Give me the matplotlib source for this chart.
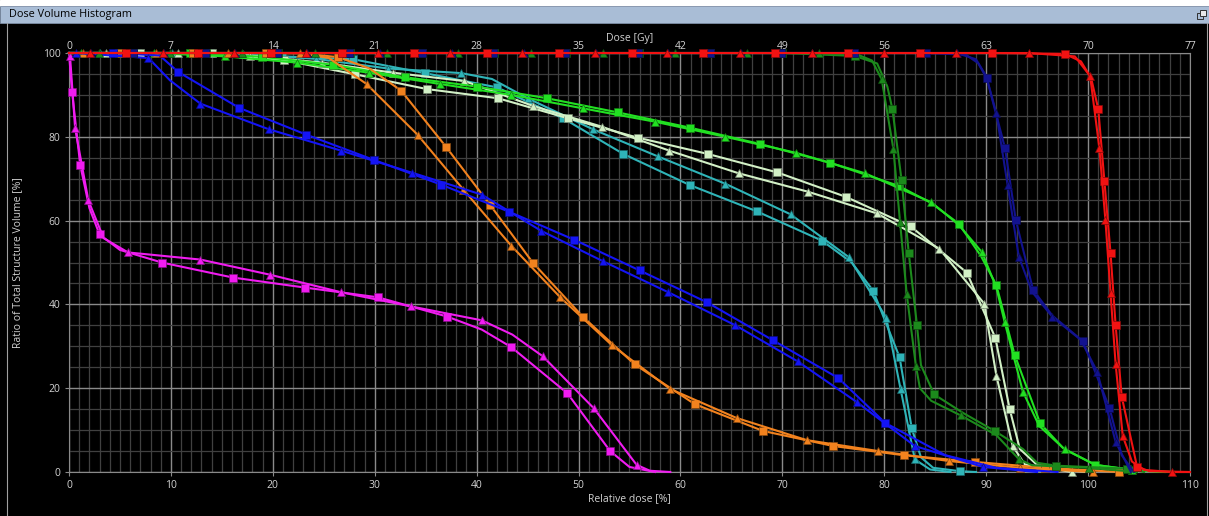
import numpy as np
import matplotlib
matplotlib.use('Agg')
import matplotlib.pyplot as plt
import matplotlib.colors as mcolors
from matplotlib.patches import Rectangle
from matplotlib.ticker import MultipleLocator

plt.rcParams['font.family'] = ['Open Sans', 'DejaVu Sans']

# colours of the structures
MAGENTA = '#f01cf0'
BLUE = '#1414f5'
NAVY = '#12128f'
ORANGE = '#f2821e'
TEAL = '#2fb4b8'
PALE = '#d2f0c6'
GREEN = '#22e022'
DGREEN = '#1c8a1c'
RED = '#f21212'

# relative dose [%] / volume [%] read at the markers, plus a few unmarked shape points (X)
M_SQ_D = [0.3, 1.1, 3.0, 9.1, 16.1, 23.2, 30.3, 37.1, 43.4, 48.9, 53.1]
M_SQ_V = [90.7, 73.3, 56.7, 50.0, 46.4, 44.0, 41.7, 37.1, 29.8, 18.8, 5.0]
M_SQ_XD = [0, 2.0, 5.0, 40.5, 55.0, 57.5]
M_SQ_XV = [100, 63.0, 53.0, 34.0, 1.2, 0]
M_TR_D = [0.1, 0.6, 1.9, 5.8, 12.9, 19.7, 26.7, 33.6, 40.5, 46.5, 51.5, 55.7]
M_TR_V = [99.3, 82.0, 64.8, 52.4, 50.7, 47.1, 42.9, 39.5, 36.2, 27.6, 15.2, 1.7]
M_TR_XD = [0, 3.4, 43.5, 57.0, 59.0]
M_TR_XV = [100, 55.8, 32.8, 0.3, 0]

B_SQ_D = [4.3, 10.7, 16.7, 23.3, 29.9, 36.5, 43.2, 49.6, 56.0, 62.6, 69.1, 75.5, 80.1]
B_SQ_V = [100, 95.5, 86.9, 80.5, 74.5, 68.6, 62.1, 55.4, 48.1, 40.5, 31.4, 22.4, 11.7]
B_SQ_XD = [0, 8.9, 86.0, 91.0, 97.0]
B_SQ_XV = [100, 99.4, 4.0, 1.0, 0]
B_TR_D = [0.7, 7.8, 12.9, 19.6, 26.7, 33.7, 40.5, 46.3, 52.4, 58.8, 65.4, 71.5, 77.3, 83.0, 89.7]
B_TR_V = [100, 98.8, 87.9, 81.8, 76.7, 71.4, 66.2, 57.6, 50.3, 42.9, 35.0, 26.4, 16.7, 6.2, 1.2]
B_TR_XD = [0, 9.9, 95.0]
B_TR_XV = [100, 93.5, 0]

O_TR_D = [1.4, 8.5, 15.6, 22.7, 29.2, 34.2, 38.7, 43.4, 48.2, 53.3, 59.0, 65.5, 72.4, 79.4, 86.4, 93.3, 100.5]
O_TR_V = [100, 100, 100, 100, 92.6, 80.5, 67.4, 54.0, 41.7, 30.2, 19.8, 12.9, 7.6, 5.0, 2.6, 1.0, 0]
O_TR_XD = [0, 25.5]
O_TR_XV = [100, 98.8]
O_SQ_D = [5.1, 12.2, 19.3, 26.4, 32.6, 37.0, 41.3, 45.5, 50.4, 55.5, 61.4, 68.1, 75.0, 81.9, 88.9, 95.8, 103.0]
O_SQ_V = [100, 100, 100, 99.0, 91.0, 77.6, 63.8, 50.0, 37.1, 25.7, 16.2, 9.8, 6.2, 4.0, 2.4, 1.0, 0]
O_SQ_XD = [0, 23.0, 29.5]
O_SQ_XV = [100, 99.9, 96.3]

T_SQ_D = [6.7, 13.8, 20.9, 27.9, 34.9, 42.0, 48.5, 54.4, 60.9, 67.5, 73.9, 78.9, 81.5, 82.7, 87.4]
T_SQ_V = [100, 100, 99.2, 98.5, 95.2, 91.8, 84.4, 75.9, 68.5, 62.2, 55.2, 43.3, 27.4, 10.4, 0.2]
T_SQ_XD = [0, 76.8, 83.6, 84.8, 89.0]
T_SQ_XV = [100, 50.0, 3.5, 1.0, 0]
T_TR_D = [3.0, 10.1, 17.1, 24.2, 31.3, 38.5, 45.0, 51.4, 57.8, 64.4, 70.8, 76.5, 80.2, 81.6, 83.0]
T_TR_V = [100, 100, 99.8, 98.6, 96.3, 95.2, 89.2, 81.8, 75.3, 68.8, 61.5, 51.3, 36.8, 19.8, 3.0]
T_TR_XD = [0, 41.5, 84.5, 86.5]
T_TR_XV = [100, 93.8, 0.6, 0]

P_SQ_D = [7.0, 14.0, 21.1, 28.1, 35.1, 42.1, 49.0, 55.8, 62.7, 69.5, 76.2, 82.6, 88.1, 90.9, 92.3, 95.3]
P_SQ_V = [100, 99.9, 98.3, 94.9, 91.4, 89.2, 84.4, 79.8, 75.9, 71.5, 65.7, 58.6, 47.6, 32.0, 15.1, 1.0]
P_SQ_XD = [0, 93.3, 100.0]
P_SQ_XV = [100, 5.5, 0]
P_TR_D = [3.6, 10.7, 17.8, 24.8, 31.8, 38.8, 45.5, 52.3, 58.9, 65.7, 72.5, 79.3, 85.4, 89.8, 91.0, 92.6, 98.4]
P_TR_V = [100, 100, 99.4, 97.7, 95.3, 93.3, 87.4, 82.4, 76.7, 71.3, 66.9, 61.7, 53.3, 40.2, 23.0, 6.2, 0]
P_TR_XD = [0, 93.8]
P_TR_XV = [100, 1.8]

G_TR_D = [1.2, 8.3, 15.3, 22.4, 29.4, 36.4, 43.4, 50.4, 57.5, 64.4, 71.3, 78.1, 84.6, 89.6, 91.8, 93.6, 97.7, 104.3]
G_TR_V = [100, 100, 99.2, 97.7, 95.3, 92.6, 90.0, 86.8, 83.6, 80.0, 76.2, 71.3, 64.4, 52.4, 35.9, 19.2, 5.4, 0.5]
G_TR_XD = [0, 87.3, 91.0, 95.2, 100.7, 107.5]
G_TR_XV = [100, 59.0, 44.0, 11.0, 1.7, 0]
G_SQ_D = [4.9, 11.9, 18.9, 25.9, 33.0, 40.0, 46.9, 53.9, 60.9, 67.8, 74.7, 81.4, 87.3, 91.0, 92.8, 95.3, 100.7]
G_SQ_V = [100, 100, 99.1, 97.2, 94.2, 92.0, 89.2, 85.8, 82.2, 78.3, 73.8, 68.3, 59.3, 44.6, 27.9, 11.6, 1.7]
G_SQ_XD = [0, 84.6, 89.5, 97.6, 105.0, 108.5]
G_SQ_XV = [100, 64.2, 51.5, 5.6, 0.3, 0]

DG_SQ_D = [6.3, 13.4, 20.5, 27.6, 34.6, 41.7, 48.8, 55.9, 62.9, 70.0, 77.1, 80.8, 81.7, 82.4, 83.2, 84.9, 90.9, 96.9, 103.8]
DG_SQ_V = [100, 100, 100, 100, 100, 100, 100, 100, 100, 100, 99.3, 86.6, 69.6, 52.3, 35.2, 18.5, 9.7, 1.5, 0.8]
DG_SQ_XD = [0, 79.3, 80.3, 83.6, 87.8, 93.6, 95.0, 105.5]
DG_SQ_XV = [100, 97.5, 92.0, 25.5, 14.0, 5.5, 2.2, 0]
DG_TR_D = [2.9, 9.9, 17.0, 24.1, 31.2, 38.2, 45.3, 52.4, 59.5, 66.5, 73.6, 79.75, 80.9, 81.55, 82.2, 83.1, 87.5, 93.2, 100.1]
DG_TR_V = [100, 100, 100, 100, 100, 100, 100, 100, 100, 100, 100, 93.7, 77.0, 59.6, 42.5, 25.4, 13.5, 3.1, 1.0]
DG_TR_XD = [0, 77.5, 78.8, 83.5, 84.6, 91.0, 94.5, 104.8]
DG_TR_XV = [100, 99.5, 98.2, 20.0, 17.0, 8.8, 1.6, 0]

N_SQ_D = [6.3, 13.3, 20.4, 27.5, 34.6, 41.6, 48.7, 55.8, 62.9, 69.9, 77.0, 84.1, 90.05, 91.85, 92.9, 94.6, 99.5, 102.1]
N_SQ_V = [100, 100, 100, 100, 100, 100, 100, 100, 100, 100, 100, 100, 94.0, 77.3, 60.2, 43.5, 31.2, 15.3]
N_SQ_XD = [0, 88.0, 89.2, 96.5, 103.3, 104.5]
N_SQ_XV = [100, 99.6, 97.6, 37.3, 4.0, 0]
N_TR_D = [2.2, 9.3, 16.3, 23.4, 30.5, 37.6, 44.6, 51.7, 58.8, 65.9, 72.9, 80.0, 87.1, 91.0, 92.1, 93.2, 96.5, 100.9, 102.7]
N_TR_V = [100, 100, 100, 100, 100, 100, 100, 100, 100, 100, 100, 100, 100, 85.6, 68.5, 51.4, 37.0, 23.9, 7.2]
N_TR_XD = [0, 89.0, 90.0, 94.5, 99.3, 104.2]
N_TR_XV = [100, 98.5, 94.5, 43.0, 31.5, 0]

R_SQ_D = [5.6, 12.7, 19.8, 26.8, 33.9, 41.0, 48.1, 55.2, 62.2, 69.3, 76.4, 83.5, 90.6, 97.7, 101.0, 101.6, 102.2, 102.7, 103.3, 104.8]
R_SQ_V = [100, 100, 100, 100, 100, 100, 100, 100, 100, 100, 100, 100, 100, 99.8, 86.6, 69.5, 52.3, 35.1, 18.0, 1.3]
R_SQ_XD = [0, 99.3, 100.3, 106.0, 110.0]
R_SQ_XV = [100, 98.0, 94.0, 0.2, 0]
R_TR_D = [2.1, 9.2, 16.2, 23.3, 30.3, 37.4, 44.5, 51.6, 58.7, 65.8, 72.9, 80.0, 87.0, 94.2, 100.2, 101.1, 101.7, 102.2, 102.7, 103.4, 108.2]
R_TR_V = [100, 100, 100, 100, 100, 100, 100, 100, 100, 100, 100, 100, 100, 100, 94.5, 77.4, 60.1, 42.8, 25.8, 8.6, 0]
R_TR_XD = [0, 98.7, 104.3, 105.5, 110.0]
R_TR_XV = [100, 99.2, 2.5, 0.5, 0]

X_TICKS = [0, 10, 20, 30, 40, 50, 60, 70, 80, 90, 100, 110]
Y_TICKS = [0, 20, 40, 60, 80, 100]
GY_TICKS = [0, 7, 14, 21, 28, 35, 42, 49, 56, 63, 70, 77]

W, H = 1209, 516


def draw_curve(ax, d, v, xd, xv, color, marker, z):
    ld = np.array(d + xd, dtype=float)
    lv = np.array(v + xv, dtype=float)
    order = np.lexsort((-lv, ld))
    ax.plot(ld[order], lv[order], color=color, lw=1.5, zorder=z, clip_on=False,
            solid_joinstyle='round')
    edge = tuple(c * 0.55 for c in mcolors.to_rgb(color))
    ms = 5.8 if marker == 's' else 6.4
    ax.plot(d, v, ls='none', marker=marker, ms=ms, mfc=color, mec=edge, mew=0.5,
            zorder=z + 0.5, clip_on=False)


fig = plt.figure(figsize=(W / 100, H / 100), dpi=100, facecolor='black')

# window frame / title bar
fig.patches.append(Rectangle((0, 1 - 6 / H), 1, 6 / H, transform=fig.transFigure,
                             color='white', zorder=0))
fig.patches.append(Rectangle((0, 1 - 23 / H), 1, 17 / H, transform=fig.transFigure,
                             facecolor='#a9bdd6', edgecolor='#7d8ea6', lw=0.6, zorder=0))
fig.text(9 / W, 1 - 15 / H, 'Dose Volume Histogram', fontsize=7.8, color='black',
         va='center', ha='left')
fig.patches.append(Rectangle((1197 / W, 1 - 19 / H), 6 / W, 6 / H, transform=fig.transFigure,
                             facecolor='none', edgecolor='#303030', lw=0.7))
fig.patches.append(Rectangle((1200 / W, 1 - 16 / H), 6 / W, 6 / H, transform=fig.transFigure,
                             facecolor='#e8e8e8', edgecolor='#303030', lw=0.7))
fig.lines.append(plt.Line2D([6.5 / W, 6.5 / W], [0, 1 - 23 / H], transform=fig.transFigure,
                            color='#a0a0a0', lw=0.8))
fig.lines.append(plt.Line2D([1206.5 / W, 1206.5 / W], [0, 1 - 23 / H], transform=fig.transFigure,
                            color='#a0a0a0', lw=0.8))

ax = fig.add_axes([69 / W, 44 / H, 1121 / W, 419 / H])
ax.set_facecolor('black')
ax.set_xlim(0, 110)
ax.set_ylim(0, 100)
ax.set_xticks(X_TICKS)
ax.set_yticks(Y_TICKS)
ax.xaxis.set_minor_locator(MultipleLocator(1))
ax.yaxis.set_minor_locator(MultipleLocator(5))
ax.set_axisbelow(True)
ax.grid(which='minor', color='#404040', lw=0.9)
ax.grid(which='major', color='#8a8a8a', lw=1.0)
ax.tick_params(which='major', colors='#8a8a8a', labelcolor='#d2d2d2', labelsize=7.5,
               length=3, pad=3)
ax.tick_params(which='minor', length=0)
for s in ax.spines.values():
    s.set_color('#8a8a8a')
ax.set_xlabel('Relative dose [%]', color='#d2d2d2', fontsize=7.5, labelpad=1)
ax.set_ylabel('Ratio of Total Structure Volume [%]', color='#d2d2d2', fontsize=7.5, labelpad=14)

top = ax.secondary_xaxis('top', functions=(lambda x: x * 0.7, lambda g: g / 0.7))
top.set_xticks(GY_TICKS)
top.tick_params(colors='#8a8a8a', labelcolor='#d2d2d2', labelsize=7.5, length=0, pad=1)
top.set_xlabel('Dose [Gy]', color='#d2d2d2', fontsize=7.5, labelpad=0)
top.spines['top'].set_visible(False)

curves = [
    (M_SQ_D, M_SQ_V, M_SQ_XD, M_SQ_XV, MAGENTA, 's'),
    (M_TR_D, M_TR_V, M_TR_XD, M_TR_XV, MAGENTA, '^'),
    (T_SQ_D, T_SQ_V, T_SQ_XD, T_SQ_XV, TEAL, 's'),
    (T_TR_D, T_TR_V, T_TR_XD, T_TR_XV, TEAL, '^'),
    (P_SQ_D, P_SQ_V, P_SQ_XD, P_SQ_XV, PALE, 's'),
    (P_TR_D, P_TR_V, P_TR_XD, P_TR_XV, PALE, '^'),
    (G_SQ_D, G_SQ_V, G_SQ_XD, G_SQ_XV, GREEN, 's'),
    (G_TR_D, G_TR_V, G_TR_XD, G_TR_XV, GREEN, '^'),
    (O_SQ_D, O_SQ_V, O_SQ_XD, O_SQ_XV, ORANGE, 's'),
    (O_TR_D, O_TR_V, O_TR_XD, O_TR_XV, ORANGE, '^'),
    (B_SQ_D, B_SQ_V, B_SQ_XD, B_SQ_XV, BLUE, 's'),
    (B_TR_D, B_TR_V, B_TR_XD, B_TR_XV, BLUE, '^'),
    (DG_SQ_D, DG_SQ_V, DG_SQ_XD, DG_SQ_XV, DGREEN, 's'),
    (DG_TR_D, DG_TR_V, DG_TR_XD, DG_TR_XV, DGREEN, '^'),
    (N_SQ_D, N_SQ_V, N_SQ_XD, N_SQ_XV, NAVY, 's'),
    (N_TR_D, N_TR_V, N_TR_XD, N_TR_XV, NAVY, '^'),
    (R_SQ_D, R_SQ_V, R_SQ_XD, R_SQ_XV, RED, 's'),
    (R_TR_D, R_TR_V, R_TR_XD, R_TR_XV, RED, '^'),
]
for i, (d, v, xd, xv, c, m) in enumerate(curves):
    draw_curve(ax, d, v, xd, xv, c, m, 3 + i)

fig.savefig('out.png', dpi=100, facecolor='black')
